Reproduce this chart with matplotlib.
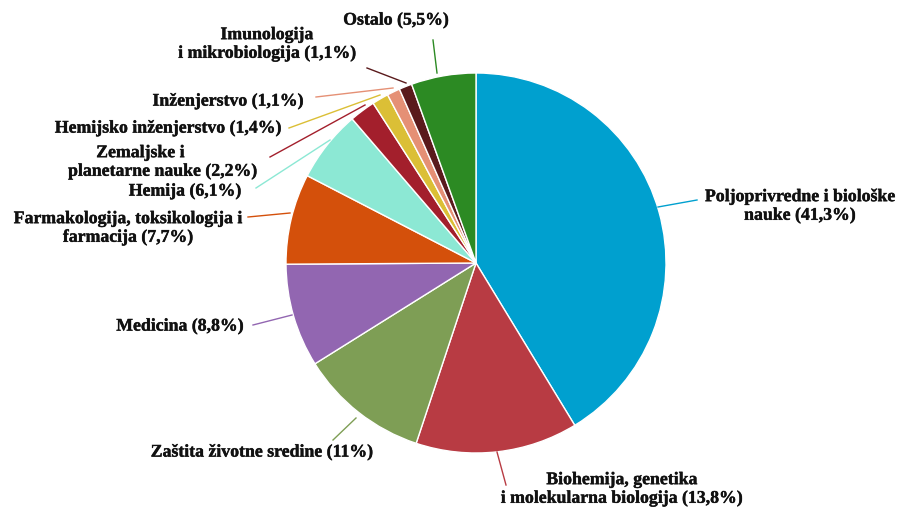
import matplotlib
matplotlib.use('Agg')
import matplotlib.pyplot as plt
import matplotlib.patheffects as pe

plt.rcParams['font.family'] = 'serif'
plt.rcParams['font.serif'] = ['Liberation Serif', 'DejaVu Serif']

labels = ['Poljoprivredne i biološke\nnauke (41,3%)',
          'Biohemija, genetika\ni molekularna biologija (13,8%)',
          'Zaštita životne sredine (11%)',
          'Medicina (8,8%)',
          'Farmakologija, toksikologija i\nfarmacija (7,7%)',
          'Hemija (6,1%)',
          'Zemaljske i          \nplanetarne nauke (2,2%)',
          'Hemijsko inženjerstvo (1,4%)',
          'Inženjerstvo (1,1%)',
          'Imunologija\ni mikrobiologija (1,1%)',
          'Ostalo (5,5%)']
shares = [41.3, 13.8, 11, 8.8, 7.7, 6.1, 2.2, 1.4, 1.1, 1.1, 5.5]
colors = ['#00A0CF', '#B83B43', '#7E9E55', '#9266B1', '#D4500B', '#8CE8D4',
          '#A31F2C', '#DBBF36', '#E59075', '#5A1A1C', '#2C8A23']

# label placement in pixel coords (x, y from top), leader line start/end
label_xy = [(800, 206), (622, 489), (262, 452), (180, 326), (128, 228),
            (185, 191), (163, 162), (168, 128), (228, 101), (267, 44), (396, 20)]
line_pts = [((658, 207), (697, 200)), ((497, 452), (506, 485)),
            ((356, 418), (333, 440)), ((292, 315), (253, 325)),
            ((290, 213), (248, 217)), ((330, 140), (256, 188)),
            ((365, 105), (270, 157)), ((380, 95), (289, 128)),
            ((393, 88), (316, 97)), ((406, 83), (367, 68)),
            ((437, 73), (433, 40))]

W, H = 907, 511
fig = plt.figure(figsize=(W / 100, H / 100), dpi=100)
ax = fig.add_axes([0, 0, 1, 1])

ax.pie(shares, colors=colors, startangle=90, counterclock=False,
       center=(476, H - 263), radius=190,
       wedgeprops=dict(edgecolor='white', linewidth=1))
ax.set_xlim(0, W)
ax.set_ylim(0, H)
ax.set_aspect('equal')
ax.axis('off')

for lab, (x, y), (p0, p1), c in zip(labels, label_xy, line_pts, colors):
    ax.plot([p0[0], p1[0]], [H - p0[1], H - p1[1]], color=c, lw=1)
    t = ax.text(x, H - y, lab, ha='center', va='center', multialignment='center',
                fontweight='bold', fontsize=12.8,
                color='#111111', linespacing=1.1)
    t.set_path_effects([pe.withStroke(linewidth=0.5, foreground='#444444', alpha=0.5), pe.Normal()])

fig.savefig('out.png', dpi=100)
